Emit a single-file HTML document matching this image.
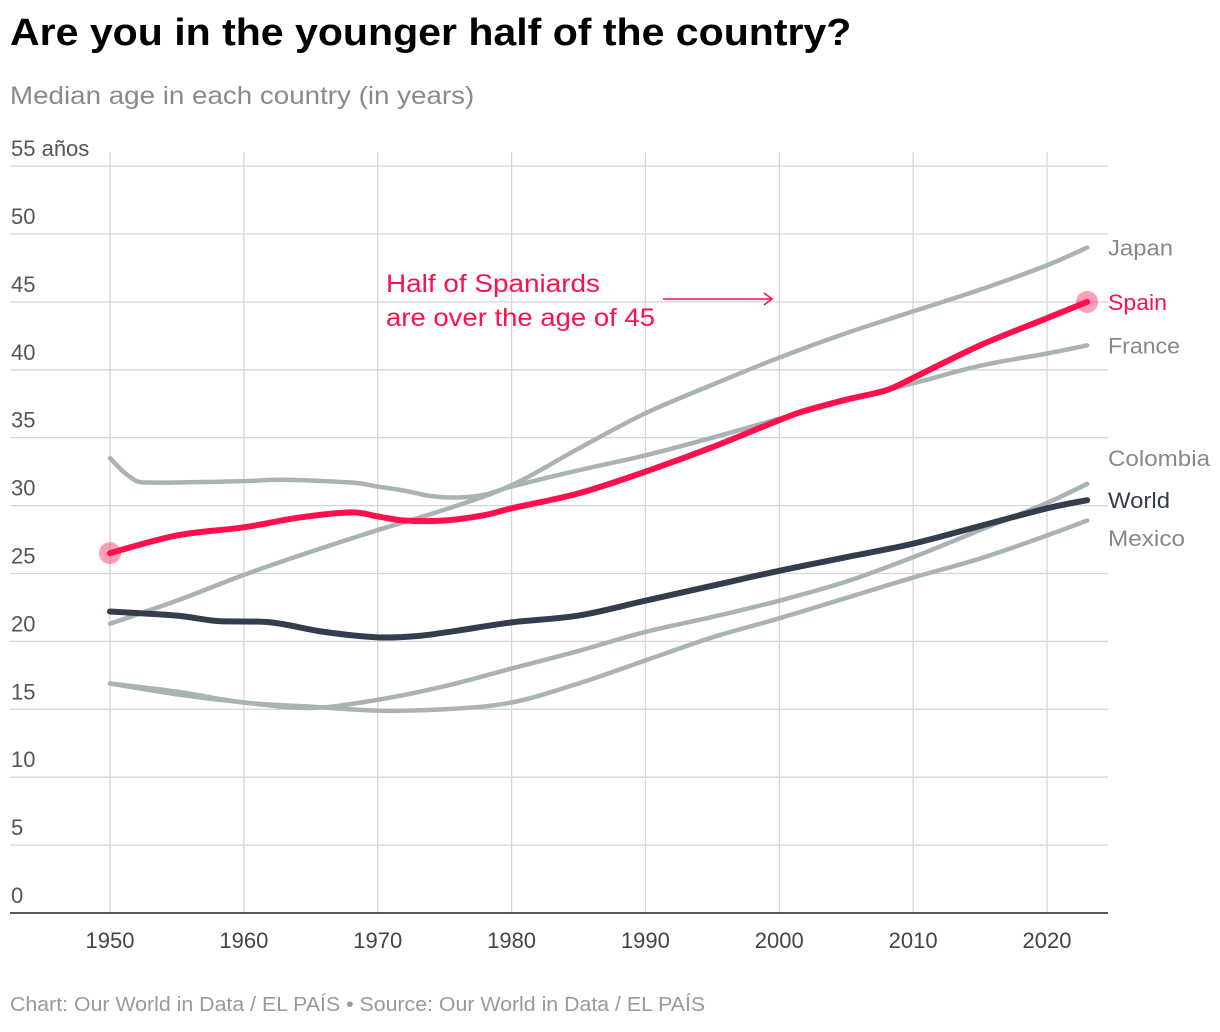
<!DOCTYPE html>
<html><head><meta charset="utf-8"><style>
body{margin:0;background:#fff;font-family:"Liberation Sans",sans-serif;}
#wrap{position:relative;width:1220px;height:1032px;overflow:hidden;}
h1{position:absolute;left:10px;top:12px;margin:0;font-size:38px;font-weight:bold;color:#000;white-space:nowrap;transform:scaleX(1.08);transform-origin:left top}
.sub{position:absolute;left:10px;top:82px;font-size:25px;color:#8a8a8a;white-space:nowrap;transform:scaleX(1.11);transform-origin:left top}
.foot{position:absolute;left:10px;top:994px;font-size:20px;color:#999;white-space:nowrap;transform:scaleX(1.066);transform-origin:left top}
svg text{font-family:"Liberation Sans",sans-serif}
</style></head><body><div id="wrap">
<svg id="c" width="1220" height="1032" style="position:absolute;left:0;top:0"></svg>
<h1>Are you in the younger half of the country?</h1>
<div class="sub">Median age in each country (in years)</div>
<div class="foot">Chart: Our World in Data / EL PAÍS • Source: Our World in Data / EL PAÍS</div>
</div>
<script>
const yTicks=[0,5,10,15,20,25,30,35,40,45,50,55];
const xTicks=[1950,1960,1970,1980,1990,2000,2010,2020];
const japanYears=[1950,1955,1960,1965,1970,1975,1980,1985,1990,1995,2000,2005,2010,2015,2020,2023];
const japanVals=[21.3,23,24.9,26.6,28.2,29.7,31.5,34.2,36.8,38.9,40.9,42.7,44.3,45.9,47.7,49.0];
const franceYears=[1950,1951,1952,1953,1955,1960,1963,1968,1970,1972,1974,1976,1978,1980,1985,1990,1995,2000,2005,2010,2015,2020,2023];
const franceVals=[33.5,32.5,31.8,31.7,31.7,31.8,31.9,31.7,31.4,31.1,30.7,30.6,30.8,31.4,32.6,33.7,35,36.4,37.8,39.0,40.3,41.2,41.8];
const spainYears=[1950,1955,1960,1964,1968,1970,1972,1975,1978,1980,1985,1990,1995,2000,2002,2005,2008,2010,2015,2020,2023];
const spainVals=[26.5,27.8,28.4,29.1,29.5,29.2,28.9,28.9,29.3,29.8,30.9,32.5,34.3,36.3,37.0,37.8,38.5,39.4,41.8,43.8,45.0];
const worldYears=[1950,1955,1958,1962,1966,1970,1973,1976,1980,1985,1990,1995,2000,2005,2010,2015,2020,2023];
const worldVals=[22.2,21.9,21.5,21.4,20.7,20.3,20.4,20.8,21.4,21.9,23.0,24.1,25.2,26.2,27.2,28.5,29.8,30.4];
const colombiaYears=[1950,1955,1960,1965,1970,1975,1980,1985,1990,1995,2000,2005,2010,2015,2020,2023];
const colombiaVals=[16.9,16.1,15.5,15.1,15.7,16.7,18.0,19.3,20.7,21.8,23.0,24.4,26.2,28.2,30.2,31.6];
const mexicoYears=[1950,1955,1960,1965,1970,1975,1980,1985,1990,1995,2000,2005,2010,2015,2020,2023];
const mexicoVals=[16.9,16.3,15.5,15.2,14.9,15.0,15.5,16.9,18.6,20.3,21.7,23.2,24.7,26.1,27.8,28.9];

const NS="http://www.w3.org/2000/svg",svg=document.getElementById('c');
const X=y=>110+(y-1950)*(937/70);
const Y=v=>913-v*(679/50);
function el(t,a,p){const e=document.createElementNS(NS,t);for(const k in a)e.setAttribute(k,a[k]);(p||svg).appendChild(e);return e;}
yTicks.forEach(v=>{
 if(v>0){const l=el('line',{x1:10,x2:1108,y1:Y(v),y2:Y(v),stroke:'#d6d6d6','stroke-width':1.3});
 
 }
 const t=el('text',{x:11,y:Y(v)-10,'font-size':22,fill:'#555'});t.textContent=v==55?'55 años':v;
 
 
});
xTicks.forEach(y=>{
 const l=el('line',{x1:X(y),x2:X(y),y1:152,y2:913,stroke:'#d6d6d6','stroke-width':1.3});
 
 
 const t=el('text',{x:X(y),y:948,'font-size':22,fill:'#444','text-anchor':'middle'});t.textContent=y;
 
 
});
const ax=el('line',{x1:10,x2:1108,y1:913,y2:913,stroke:'#222','stroke-width':1.5});


function smoothPath(pts){
 let d='M'+pts[0][0]+','+pts[0][1];
 for(let i=0;i<pts.length-1;i++){
  const p0=pts[i-1]||pts[i],p1=pts[i],p2=pts[i+1],p3=pts[i+2]||p2;
  const c1=[p1[0]+(p2[0]-p0[0])/6,p1[1]+(p2[1]-p0[1])/6];
  const c2=[p2[0]-(p3[0]-p1[0])/6,p2[1]-(p3[1]-p1[1])/6];
  d+=' C'+c1[0]+','+c1[1]+' '+c2[0]+','+c2[1]+' '+p2[0]+','+p2[1];
 }
 return d;
}
function series(name,ys,vs,col,w){
 const p=el('path',{d:smoothPath(ys.map((y,i)=>[X(y),Y(vs[i])])),fill:'none',stroke:col,'stroke-width':w,'stroke-linejoin':'round','stroke-linecap':'round'});
 
 
}
const gray='#aab3b4';
series('mexico',mexicoYears,mexicoVals,gray,4.5);
series('colombia',colombiaYears,colombiaVals,gray,4.5);
series('japan',japanYears,japanVals,gray,4.5);
series('france',franceYears,franceVals,gray,4.5);
series('world',worldYears,worldVals,'#343d4d',6);
series('spain',spainYears,spainVals,'#ff0f4c',6);
[[spainYears[0],spainVals[0]],[spainYears[spainYears.length-1],spainVals[spainVals.length-1]]].forEach((d,i)=>{
 const c=el('circle',{cx:X(d[0]),cy:Y(d[1]),r:11,fill:'#ff0f4c','fill-opacity':0.4});
 
 
});
const labels=[['Japan',japanVals[japanVals.length-1],'#888',65],['Spain',spainVals[spainVals.length-1],'#ff0f4c',59],['France',franceVals[franceVals.length-1],'#888',72],['Colombia',33.5,'#888',102],['World',30.4,'#343d4d',62],['Mexico',27.6,'#888',77]];
labels.forEach(l=>{
 const t=el('text',{x:1108,y:Y(l[1])+8,'font-size':22,fill:l[2],textLength:l[3],lengthAdjust:'spacingAndGlyphs'});t.textContent=l[0];
 
 
});
const a1=el('text',{x:386,y:292,'font-size':25,fill:'#ff0f4c',textLength:214,lengthAdjust:'spacingAndGlyphs'});a1.textContent='Half of Spaniards';


const a2=el('text',{x:386,y:326,'font-size':25,fill:'#ff0f4c',textLength:269,lengthAdjust:'spacingAndGlyphs'});a2.textContent='are over the age of 45';


const ar=el('path',{d:'M663 299 H772 M764 293 L772 299 L764 305',fill:'none',stroke:'#ff0f4c','stroke-width':1.5});


</script></body></html>
